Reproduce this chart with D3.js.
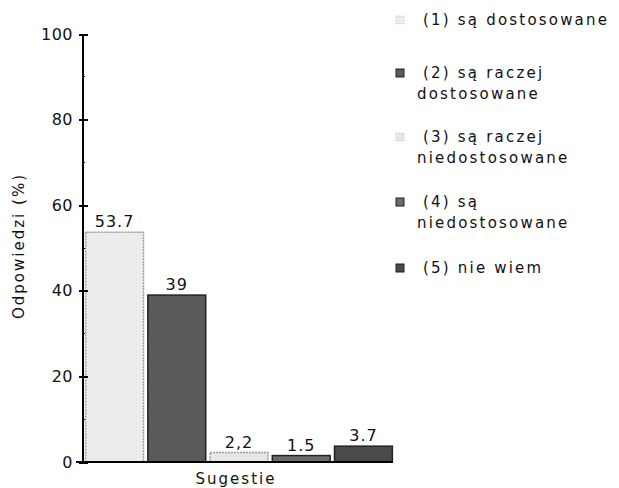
<!DOCTYPE html>
<html>
<meta charset="utf-8">
<head>
<title>Sugestie</title>
<style>
body { margin: 0; background: #fff; }
text { font-family: "DejaVu Sans", sans-serif; fill: #111; }
.axis path, .axis line { fill: none; stroke: #000; stroke-width: 2; shape-rendering: crispEdges; }
.axis text { font-size: 16px; letter-spacing: 0.5px; }
</style>
</head>
<body>
<script src="https://d3js.org/d3.v7.min.js"></script>
<script>

var categories = ["1", "2", "3", "4", "5"];
var values = [53.7, 39, 2.2, 1.5, 3.7];
var valueLabels = ["53.7", "39", "2,2", "1.5", "3.7"];
var legendLabels = [
  ["(1) są dostosowane"],
  ["(2) są raczej", "dostosowane"],
  ["(3) są raczej", "niedostosowane"],
  ["(4) są", "niedostosowane"],
  ["(5) nie wiem"]
];
var fills = ["#ececec", "#5a5a5a", "#e6e6e6", "#6a6a6a", "#4a4a4a"];
var strokes = ["#999", "#222", "#999", "#222", "#222"];
var yTicks = [0, 20, 40, 60, 80, 100];
var yMinor = [10, 30, 50, 70, 90];

var svg = d3.select("body").append("svg")
    .attr("width", 619)
    .attr("height", 488);

var x = d3.scaleBand().domain(categories).range([85, 393]).paddingInner(0.07).paddingOuter(0.01);
var y = d3.scaleLinear().domain([0, 100]).range([462, 34]);

// bars
svg.selectAll("rect.bar")
    .data(values)
  .enter().append("rect")
    .attr("class", "bar")
    .attr("x", function(d, i) { return x(categories[i]); })
    .attr("width", x.bandwidth())
    .attr("y", function(d) { return y(d); })
    .attr("height", function(d) { return y(0) - y(d); })
    .style("fill", function(d, i) { return fills[i]; })
    .style("stroke", function(d, i) { return strokes[i]; })
    .style("stroke-dasharray", function(d, i) { return i == 0 || i == 2 ? "2,1" : null; })
    .style("stroke-width", 1.5);

// value labels
svg.selectAll("text.val")
    .data(values)
  .enter().append("text")
    .attr("class", "val")
    .attr("x", function(d, i) { return x(categories[i]) + x.bandwidth() / 2; })
    .attr("y", function(d) { return y(d) - 5; })
    .attr("text-anchor", "middle")
    .style("font-size", "16px")
    .style("letter-spacing", "1px")
    .text(function(d, i) { return valueLabels[i]; });

// y axis
var yAxis = d3.axisLeft(y).tickValues(yTicks).tickSize(4).tickPadding(6);
var gy = svg.append("g")
    .attr("class", "axis")
    .attr("transform", "translate(83,0)")
    .call(yAxis);
gy.select(".domain").remove();
gy.selectAll(".tick line").attr("x1", 5).attr("x2", -4);
gy.append("line").attr("x1", 0).attr("x2", 0).attr("y1", y(0)).attr("y2", y(100));
gy.selectAll("line.minor")
    .data(yMinor)
  .enter().append("line")
    .attr("class", "minor")
    .attr("x1", -1).attr("x2", 2)
    .attr("y1", function(d) { return y(d); })
    .attr("y2", function(d) { return y(d); })
    .style("stroke-width", 1);

// baseline
svg.append("line")
    .attr("x1", 76).attr("x2", 393)
    .attr("y1", y(0)).attr("y2", y(0))
    .style("stroke", "#000").style("stroke-width", 2);

// axis titles
svg.append("text")
    .attr("transform", "translate(24,246) rotate(-90)")
    .attr("text-anchor", "middle")
    .style("font-size", "15px")
    .style("letter-spacing", "2px")
    .text("Odpowiedzi (%)");

svg.append("text")
    .attr("x", 236).attr("y", 484)
    .attr("text-anchor", "middle")
    .style("font-size", "15px")
    .style("letter-spacing", "2px")
    .text("Sugestie");

// legend
var rowY = [20, 73, 137, 202, 268];
var lg = svg.selectAll("g.leg")
    .data(legendLabels)
  .enter().append("g")
    .attr("class", "leg")
    .attr("transform", function(d, i) { return "translate(396," + rowY[i] + ")"; });

lg.append("rect")
    .attr("x", 0).attr("y", -4)
    .attr("width", 8).attr("height", 8)
    .style("fill", function(d, i) { return fills[i]; })
    .style("stroke", function(d, i) { return i == 0 || i == 2 ? "#bbb" : "#222"; })
    .style("stroke-dasharray", function(d, i) { return i == 0 || i == 2 ? "1,2" : null; });

lg.selectAll("text")
    .data(function(d) { return d; })
  .enter().append("text")
    .attr("x", function(d, j) { return j == 0 ? 27 : 21; })
    .attr("y", function(d, j) { return 5 + j * 21; })
    .style("font-size", "15px")
    .style("letter-spacing", "2.2px")
    .text(function(d) { return d; });

</script>
</body>
</html>
